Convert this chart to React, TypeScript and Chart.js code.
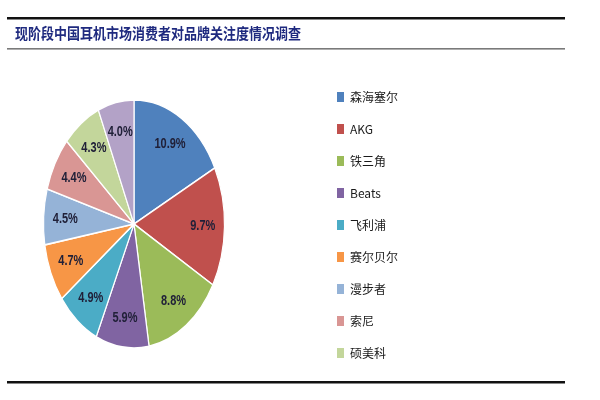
import React, { useEffect, useRef } from 'react';
import { Chart, registerables } from 'chart.js';

Chart.register(...registerables);

const TITLE = '现阶段中国耳机市场消费者对品牌关注度情况调查';
// legend categories (the 10th slice has no visible legend entry in the reference)
const brands = ['森海塞尔', 'AKG', '铁三角', 'Beats', '飞利浦', '赛尔贝尔', '漫步者', '索尼', '硕美科'];
const shares = [10.9, 9.7, 8.8, 5.9, 4.9, 4.7, 4.5, 4.4, 4.3, 4.0];
const sliceColors = [
  '#4F81BD', '#C0504D', '#9BBB59', '#8064A2', '#4BACC6',
  '#F79646', '#95B3D7', '#D99694', '#C3D69B', '#B3A2C7',
];

const STRETCH = 1.37; // the pie is drawn as a vertical ellipse

const framePlugin = {
  id: 'frame',
  beforeDraw(chart: any) {
    const ctx = chart.ctx;
    ctx.save();
    ctx.fillStyle = '#111111';
    ctx.fillRect(7, 17, 558, 2.5);
    ctx.fillStyle = '#7a7a7a';
    ctx.fillRect(7, 48, 558, 1.6);
    ctx.fillStyle = '#111111';
    ctx.fillRect(7, 381, 558, 2.5);
    ctx.font = 'bold 13px "Noto Sans CJK SC", sans-serif';
    ctx.fillStyle = '#1f2a7f';
    ctx.textBaseline = 'middle';
    ctx.textAlign = 'left';
    ctx.translate(15, 33);
    ctx.scale(1, 1.15);
    ctx.fillText(TITLE, 0, 0);
    ctx.restore();
  },
};

const legendPlacePlugin = {
  id: 'legendPlace',
  afterLayout(chart: any) {
    const lg = chart.legend;
    if (!lg) return;
    lg.left = 317;
    lg.right = lg.left + lg.width;
    lg.top = 71;
    lg.bottom = 395;
    lg.height = lg.bottom - lg.top;
  },
};

const ellipsePlugin = {
  id: 'ellipse',
  beforeDatasetsDraw(chart: any) {
    const arc = chart.getDatasetMeta(0).data[0];
    const ctx = chart.ctx;
    ctx.save();
    ctx.translate(arc.x, arc.y);
    ctx.scale(1, STRETCH);
    ctx.translate(-arc.x, -arc.y);
  },
  afterDatasetsDraw(chart: any) {
    const ctx = chart.ctx;
    const meta = chart.getDatasetMeta(0);
    ctx.font = 'bold 11px "Liberation Sans", sans-serif';
    ctx.fillStyle = '#202038';
    ctx.textAlign = 'center';
    ctx.textBaseline = 'middle';
    meta.data.forEach((arc: any, i: number) => {
      const p = arc.getProps(['x', 'y', 'startAngle', 'endAngle', 'outerRadius'], true);
      const mid = (p.startAngle + p.endAngle) / 2;
      const r = p.outerRadius * 0.76;
      ctx.fillText(shares[i].toFixed(1) + '%', p.x + Math.cos(mid) * r, p.y + Math.sin(mid) * r);
    });
    ctx.restore();
  },
};

export default function App() {
  const canvasRef = useRef<HTMLCanvasElement | null>(null);

  useEffect(() => {
    if (!canvasRef.current) return;
    const baseLabels = (Chart as any).overrides.doughnut.plugins.legend.labels.generateLabels;
    const chart = new Chart(canvasRef.current, {
      type: 'pie',
      data: {
        labels: brands,
        datasets: [
          {
            data: shares,
            backgroundColor: sliceColors,
            borderColor: '#ffffff',
            borderWidth: 1.2,
            radius: 90.5,
          } as any,
        ],
      },
      options: {
        animation: false,
        responsive: true,
        maintainAspectRatio: false,
        layout: { padding: { left: 15, right: 347, top: 50, bottom: 2 } },
        plugins: {
          title: { display: false },
          tooltip: { enabled: false },
          legend: {
            display: true,
            position: 'chartArea',
            align: 'start',
            labels: {
              boxWidth: 7,
              boxHeight: 10,
              padding: 20,
              color: '#1a1a1a',
              font: { family: '"Noto Sans CJK SC", sans-serif', size: 12 },
              generateLabels: (c: any) =>
                baseLabels(c).map((l: any) => ({ ...l, lineWidth: 0 })),
            },
          },
        },
      } as any,
      plugins: [framePlugin, legendPlacePlugin, ellipsePlugin],
    });
    return () => chart.destroy();
  }, []);

  return (
    <div style={{ position: 'absolute', left: 0, top: 0, width: 600, height: 400, background: '#ffffff' }}>
      <canvas ref={canvasRef} />
    </div>
  );
}
